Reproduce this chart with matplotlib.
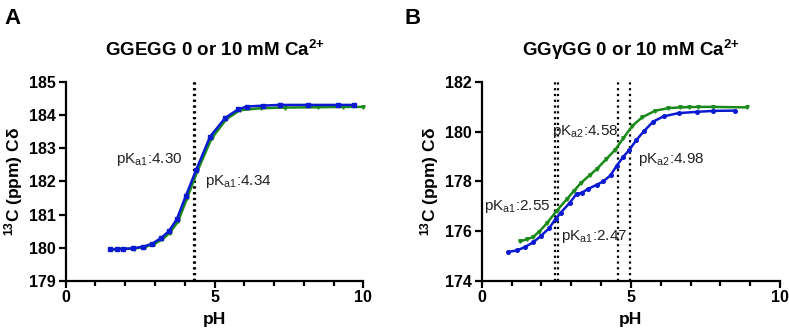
import matplotlib
matplotlib.use("Agg")
import matplotlib.pyplot as plt
from matplotlib.ticker import MultipleLocator

plt.rcParams['font.family'] = ['Liberation Sans', 'DejaVu Sans']
plt.rcParams['mathtext.fontset'] = 'custom'
plt.rcParams['mathtext.rm'] = 'Liberation Sans'
plt.rcParams['mathtext.bf'] = 'Liberation Sans:bold'

BLUE = '#0a1ad0'
GREEN = '#1a8a1a'

# Panel A: GGEGG
ph_a_blue = [1.49, 1.71, 1.91, 2.27, 2.61, 2.91, 3.20, 3.46, 3.73, 4.04, 4.38, 4.85,
             5.36, 5.80, 6.08, 6.64, 7.20, 8.15, 9.16, 9.69]
cd_a_blue = [179.95, 179.95, 179.96, 179.98, 180.03, 180.12, 180.29, 180.49, 180.85,
             181.57, 182.34, 183.35, 183.92, 184.18, 184.26, 184.29, 184.31, 184.31,
             184.31, 184.31]
ph_a_green = [1.50, 1.75, 1.95, 2.30, 2.65, 2.95, 3.25, 3.50, 3.78, 4.08, 4.42, 4.90,
              5.40, 5.85, 6.55, 7.37, 8.49, 9.30, 10.0]
cd_a_green = [179.95, 179.95, 179.96, 179.97, 180.02, 180.10, 180.25, 180.45, 180.80,
              181.50, 182.30, 183.30, 183.88, 184.15, 184.21, 184.23, 184.24, 184.25,
              184.25]
pka_a = [4.30, 4.34]

# Panel B: GGyGG
ph_b_blue = [0.89, 1.18, 1.44, 1.73, 1.98, 2.26, 2.48, 2.65, 2.96, 3.18, 3.35, 3.57,
             3.85, 4.08, 4.32, 4.52, 4.75, 4.95, 5.18, 5.43, 5.75, 6.10, 6.60, 7.21,
             7.76, 8.50]
cd_b_blue = [175.16, 175.22, 175.35, 175.55, 175.80, 176.11, 176.50, 176.74, 177.15,
             177.50, 177.54, 177.70, 177.86, 178.00, 178.25, 178.62, 179.00, 179.27,
             179.66, 180.01, 180.41, 180.62, 180.75, 180.80, 180.84, 180.85]
ph_b_green = [1.28, 1.51, 1.71, 1.93, 2.18, 2.51, 2.85, 3.08, 3.32, 3.63, 3.85, 4.17,
              4.47, 4.75, 5.05, 5.38, 5.82, 6.26, 6.65, 6.95, 7.26, 7.76, 8.88]
cd_b_green = [175.58, 175.67, 175.75, 175.98, 176.31, 176.81, 177.28, 177.60, 177.93,
              178.26, 178.49, 178.89, 179.27, 179.74, 180.24, 180.58, 180.85, 180.95,
              180.98, 180.99, 181.00, 181.00, 180.98]
pka_b = [2.47, 2.55, 4.58, 4.98]

fig = plt.figure(figsize=(7.89, 3.35), dpi=100)
ax_a = fig.add_axes([0.0833, 0.162, 0.3772, 0.593])
ax_b = fig.add_axes([0.6105, 0.162, 0.3781, 0.593])


def style(ax, ylo, yhi, ystep):
    ax.set_xlim(0, 10)
    ax.set_ylim(ylo, yhi)
    ax.spines['top'].set_visible(False)
    ax.spines['right'].set_visible(False)
    ax.spines['left'].set_linewidth(1.6)
    ax.spines['bottom'].set_linewidth(1.6)
    ax.xaxis.set_major_locator(MultipleLocator(5))
    ax.xaxis.set_minor_locator(MultipleLocator(1))
    ax.yaxis.set_major_locator(MultipleLocator(ystep))
    ax.tick_params(which='major', length=5, width=1.6, labelsize=11.5, pad=2)
    ax.tick_params(which='minor', length=3.5, width=1.6)
    for lab in ax.get_xticklabels() + ax.get_yticklabels():
        lab.set_fontweight('bold')
    ax.set_xlabel('pH', fontsize=12.5, fontweight='bold', labelpad=5)
    ax.set_ylabel(r'$\mathbf{^{13}}$C (ppm) Cδ', fontsize=12.5, fontweight='bold',
                  labelpad=3)


def pk(n, v):
    return r'pK$_{\mathrm{a' + str(n) + '}}$:' + v


dots = (0, (1, 1.6))
ca = r'Ca$^{\mathbf{2{+}}}$'

# panel A
for p in pka_a:
    ax_a.axvline(p, color='black', linestyle=dots, linewidth=1.6, zorder=1)
ax_a.plot(ph_a_green, cd_a_green, color=GREEN, linewidth=1.8, marker='v',
          markersize=2.5, zorder=2, clip_on=False)
ax_a.plot(ph_a_blue, cd_a_blue, color=BLUE, linewidth=1.8, marker='s',
          markersize=2.6, zorder=3)
style(ax_a, 179, 185, 1)
ax_a.text(3.92, 182.65, pk(1, '4.30'), ha='right', va='center', fontsize=11, color='#222222')
ax_a.text(4.68, 182.0, pk(1, '4.34'), ha='left', va='center', fontsize=11, color='#222222')
ax_a.set_title('GGEGG 0 or 10 mM ' + ca, fontsize=13.5, fontweight='bold', pad=19)

# panel B
for p in pka_b:
    ax_b.axvline(p, color='black', linestyle=dots, linewidth=1.6, zorder=1)
ax_b.plot(ph_b_green, cd_b_green, color=GREEN, linewidth=1.8, marker='v',
          markersize=2.5, zorder=2)
ax_b.plot(ph_b_blue, cd_b_blue, color=BLUE, linewidth=1.8, marker='o',
          markersize=2.6, zorder=3)
style(ax_b, 174, 182, 2)
ax_b.text(2.29, 176.98, pk(1, '2.55'), ha='right', va='center', fontsize=11, color='#222222')
ax_b.text(2.66, 175.77, pk(1, '2.47'), ha='left', va='center', fontsize=11, color='#222222')
ax_b.text(2.35, 180.0, pk(2, '4.58'), ha='left', va='center', fontsize=11, color='#222222')
ax_b.text(5.24, 178.9, pk(2, '4.98'), ha='left', va='center', fontsize=11, color='#222222')
ax_b.set_title('GGγGG 0 or 10 mM ' + ca, fontsize=13.5, fontweight='bold', pad=19)

fig.text(0.006, 0.975, 'A', fontsize=16, fontweight='bold', va='top')
fig.text(0.513, 0.975, 'B', fontsize=16, fontweight='bold', va='top')

fig.savefig('out.png', dpi=100)
